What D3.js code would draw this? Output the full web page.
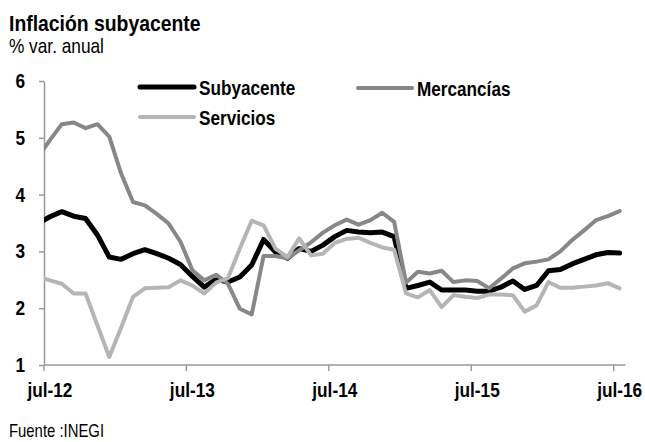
<!DOCTYPE html>
<html>
<head>
<meta charset="utf-8">
<script src="https://cdn.jsdelivr.net/npm/d3@7"></script>
<style>
  body { margin: 0; background: #fff; }
  svg { display: block; }
  text { font-family: 'Liberation Sans', Arial, sans-serif; fill: #000; }
</style>
</head>
<body>
<div id="chart"></div>
<script>
// months (jun-12 sits just left of the plot and gets clipped, like the original)
var months = ['jun-12','jul-12','ago-12','sep-12','oct-12','nov-12','dic-12',
  'ene-13','feb-13','mar-13','abr-13','may-13','jun-13','jul-13','ago-13','sep-13','oct-13','nov-13','dic-13',
  'ene-14','feb-14','mar-14','abr-14','may-14','jun-14','jul-14','ago-14','sep-14','oct-14','nov-14','dic-14',
  'ene-15','feb-15','mar-15','abr-15','may-15','jun-15','jul-15','ago-15','sep-15','oct-15','nov-15','dic-15',
  'ene-16','feb-16','mar-16','abr-16','may-16','jun-16','jul-16'];

var subyacente = [3.49, 3.61, 3.70, 3.62, 3.58, 3.29, 2.90, 2.86, 2.96, 3.03, 2.96, 2.88, 2.77,
  2.56, 2.37, 2.51, 2.46, 2.55, 2.76, 3.21, 2.99, 2.88, 3.05, 3.00, 3.11,
  3.26, 3.37, 3.34, 3.33, 3.34, 3.26, 2.35, 2.40, 2.46, 2.32, 2.32, 2.32,
  2.30, 2.30, 2.37, 2.48, 2.33, 2.40, 2.66, 2.68, 2.78, 2.86, 2.94, 2.98, 2.97];

var mercancias = [4.66, 4.96, 5.24, 5.27, 5.17, 5.24, 5.02, 4.37, 3.87, 3.81, 3.66, 3.49, 3.17,
  2.67, 2.49, 2.59, 2.43, 1.99, 1.89, 2.92, 2.92, 2.88, 3.02, 3.16, 3.33,
  3.46, 3.56, 3.47, 3.55, 3.68, 3.52, 2.45, 2.64, 2.61, 2.66, 2.46, 2.49,
  2.48, 2.35, 2.52, 2.70, 2.79, 2.82, 2.86, 3.00, 3.20, 3.37, 3.55, 3.62, 3.71];

var servicios = [2.55, 2.49, 2.43, 2.26, 2.26, 1.70, 1.14, 1.66, 2.20, 2.35, 2.36, 2.37, 2.49,
  2.40, 2.26, 2.45, 2.53, 3.05, 3.54, 3.46, 3.05, 2.90, 3.23, 2.93, 2.96,
  3.15, 3.22, 3.24, 3.15, 3.07, 3.03, 2.26, 2.19, 2.32, 2.02, 2.23, 2.20,
  2.18, 2.24, 2.24, 2.23, 1.94, 2.05, 2.46, 2.36, 2.36, 2.38, 2.40, 2.44, 2.35];

var xTicks = ['jul-12', 'jul-13', 'jul-14', 'jul-15', 'jul-16'];
var yTicks = [1, 2, 3, 4, 5, 6];

var width = 645, height = 442;
var plotLeft = 44, plotRight = 625.6, plotTop = 81, plotBottom = 365;
var sx = 0.85; // the original font is a narrow one, squeeze text horizontally

var svg = d3.select('#chart')
  .append('svg')
  .attr('width', width)
  .attr('height', height);

// one band per month; jun-12 band lies outside the plot area
var step = (plotRight - plotLeft) / (months.length - 1);
var x = d3.scaleBand()
  .domain(months)
  .range([plotLeft - step, plotRight]);
var y = d3.scaleLinear().domain([1, 6]).range([plotBottom, plotTop]);

var cx = function(i) { return x(months[i]) + x.bandwidth() / 2; };

var addText = function(px, py, size, bold, str) {
  return svg.append('text')
    .attr('transform', 'translate(' + px + ',' + py + ') scale(' + sx + ',1)')
    .style('font-size', size + 'px')
    .style('font-weight', bold ? 'bold' : 'normal')
    .text(str);
};

// titles
addText(9, 31, 22.8, true, 'Inflación subyacente');
addText(9, 53, 20.3, false, '% var. anual');

// y axis
var yAxis = d3.axisLeft(y).tickValues(yTicks).tickFormat(d3.format('d')).tickSize(5).tickSizeOuter(0);
var gy = svg.append('g').attr('transform', 'translate(' + plotLeft + ',0)').call(yAxis);
gy.select('.domain').attr('stroke', '#999').attr('stroke-width', 1.5);
gy.selectAll('.tick line').attr('stroke', '#999').attr('stroke-width', 1.5);
gy.selectAll('.tick text')
  .attr('x', -19 / sx)
  .attr('transform', 'scale(' + sx + ',1)')
  .style('font-size', '20.3px').style('font-weight', 'bold')
  .attr('fill', '#000');

// x axis: ticks at the start of each jul band, labels at the band centre
var xAxis = d3.axisBottom(x).tickValues(xTicks).tickSize(6).tickSizeOuter(0).tickPadding(12);
var gx = svg.append('g').attr('transform', 'translate(0,' + plotBottom + ')').call(xAxis);
gx.select('.domain').attr('d', 'M' + plotLeft + ',0H' + plotRight)
  .attr('stroke', '#999').attr('stroke-width', 1.5);
gx.selectAll('.tick line')
  .attr('x1', -x.bandwidth() / 2).attr('x2', -x.bandwidth() / 2)
  .attr('stroke', '#999').attr('stroke-width', 1.5);
gx.selectAll('.tick text')
  .attr('transform', 'scale(' + sx + ',1)')
  .style('font-size', '20.3px').style('font-weight', 'bold')
  .attr('fill', '#000');

// clip lines to the plot area
svg.append('clipPath').attr('id', 'plot')
  .append('rect').attr('x', plotLeft).attr('y', 0)
  .attr('width', width - plotLeft).attr('height', plotBottom);

var series = [
  { name: 'Subyacente', values: subyacente, color: '#000000', w: 5 },
  { name: 'Mercancías', values: mercancias, color: '#878787', w: 4 },
  { name: 'Servicios', values: servicios, color: '#b5b5b5', w: 4 }
];

var line = d3.line()
  .x(function(d, i) { return cx(i); })
  .y(function(d) { return y(d); });

svg.append('g').attr('clip-path', 'url(#plot)')
  .selectAll('path')
  .data(series)
  .join('path')
  .attr('d', function(s) { return line(s.values); })
  .attr('fill', 'none')
  .attr('stroke', function(s) { return s.color; })
  .attr('stroke-width', function(s) { return s.w; })
  .attr('stroke-linejoin', 'round')
  .attr('stroke-linecap', 'round');

// legend
var legendPos = [[140, 87], [358, 88], [140, 117]];
var lg = svg.append('g').selectAll('g')
  .data(series)
  .join('g')
  .attr('transform', function(s, i) { return 'translate(' + legendPos[i][0] + ',' + legendPos[i][1] + ')'; });
lg.append('line').attr('x1', 0).attr('x2', 54).attr('y1', 0).attr('y2', 0)
  .attr('stroke', function(s) { return s.color; })
  .attr('stroke-width', function(s) { return s.w; })
  .attr('stroke-linecap', 'round');
lg.append('text')
  .attr('transform', 'translate(59,8) scale(' + sx + ',1)')
  .style('font-size', '20.2px').style('font-weight', 'bold')
  .text(function(s) { return s.name; });

// source
addText(9, 437, 17.5, false, 'Fuente :INEGI');
</script>
</body>
</html>
